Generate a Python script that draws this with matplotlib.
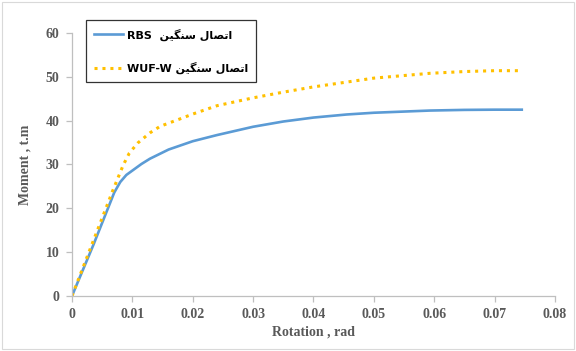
import matplotlib
matplotlib.use('Agg')
import matplotlib.pyplot as plt
from matplotlib.patches import Rectangle

# data
rot_rbs = [0, 0.0035, 0.0070, 0.0080, 0.0090, 0.010, 0.0115, 0.0129, 0.016, 0.020, 0.024, 0.030, 0.035, 0.040, 0.0455, 0.050, 0.0593, 0.065, 0.070, 0.0745]
mom_rbs = [0, 11.5, 23.6, 26.0, 27.6, 28.6, 30.1, 31.3, 33.4, 35.3, 36.7, 38.6, 39.8, 40.7, 41.4, 41.8, 42.3, 42.45, 42.5, 42.5]

rot_wuf = [0, 0.0068, 0.0085, 0.0095, 0.0109, 0.0129, 0.0146, 0.0179, 0.020, 0.024, 0.030, 0.035, 0.040, 0.0455, 0.050, 0.0593, 0.065, 0.070, 0.0745]
mom_wuf = [0, 24.2, 29.9, 32.6, 34.9, 37.2, 38.7, 40.4, 41.5, 43.4, 45.2, 46.5, 47.7, 48.8, 49.7, 50.8, 51.2, 51.4, 51.4]

# "اتصال سنگین" in shaped presentation forms, visual order
label_ar = '\ufee6\ufbff\ufb95\ufee8\ufeb3 \ufedd\ufe8e\ufebc\ufe97\ufe8d'
labels = ['RBS  ' + label_ar, 'WUF-W ' + label_ar]

xticks = [0, 0.01, 0.02, 0.03, 0.04, 0.05, 0.06, 0.07, 0.08]
yticks = [0, 10, 20, 30, 40, 50, 60]

fig = plt.figure(figsize=(5.76, 3.51), dpi=100)
fig.patches.append(Rectangle((0.004, 0.006), 0.992, 0.988, transform=fig.transFigure,
                             fill=False, edgecolor='#d9d9d9', linewidth=0.8))
ax = fig.add_axes([0.125, 0.157, 0.8385, 0.749])

ax.plot(rot_rbs, mom_rbs, color='#5B9BD5', linewidth=1.9, label=labels[0])
ax.plot(rot_wuf, mom_wuf, color='#FFC000', linewidth=2.2, linestyle=(0, (1, 1.6)),
        label=labels[1])

ax.set_xlim(0, 0.08)
ax.set_ylim(0, 60)
ax.set_xticks(xticks)
ax.set_xticklabels(['0' if v == 0 else '%g' % v for v in xticks])
ax.set_yticks(yticks)

for s in ['top', 'right']:
    ax.spines[s].set_visible(False)
for s in ['left', 'bottom']:
    ax.spines[s].set_color('#bfbfbf')
    ax.spines[s].set_linewidth(0.9)

ax.tick_params(direction='out', length=4, width=0.9, color='#bfbfbf', labelcolor='#595959', pad=5)
for lab in ax.get_xticklabels() + ax.get_yticklabels():
    lab.set_fontfamily('Liberation Serif')
    lab.set_fontweight('bold')
    lab.set_fontsize(10)

ax.set_xlabel('Rotation , rad', fontfamily='Liberation Serif', fontweight='bold',
              fontsize=10, color='#595959', labelpad=3)
ax.set_ylabel('Moment , t.m', fontfamily='Liberation Serif', fontweight='bold',
              fontsize=10, color='#595959', labelpad=10)

leg = ax.legend(loc='upper left', bbox_to_anchor=(86 / 576, 1 - 20 / 351),
                bbox_transform=fig.transFigure, fancybox=False, frameon=True,
                prop={'family': ['DejaVu Sans'], 'weight': 'bold', 'size': 8},
                handlelength=2.6, borderpad=0.75, labelspacing=1.9, handletextpad=0.3,
                borderaxespad=0)
leg.get_frame().set_edgecolor('black')
leg.get_frame().set_linewidth(0.9)

fig.savefig('out.png', dpi=100)
